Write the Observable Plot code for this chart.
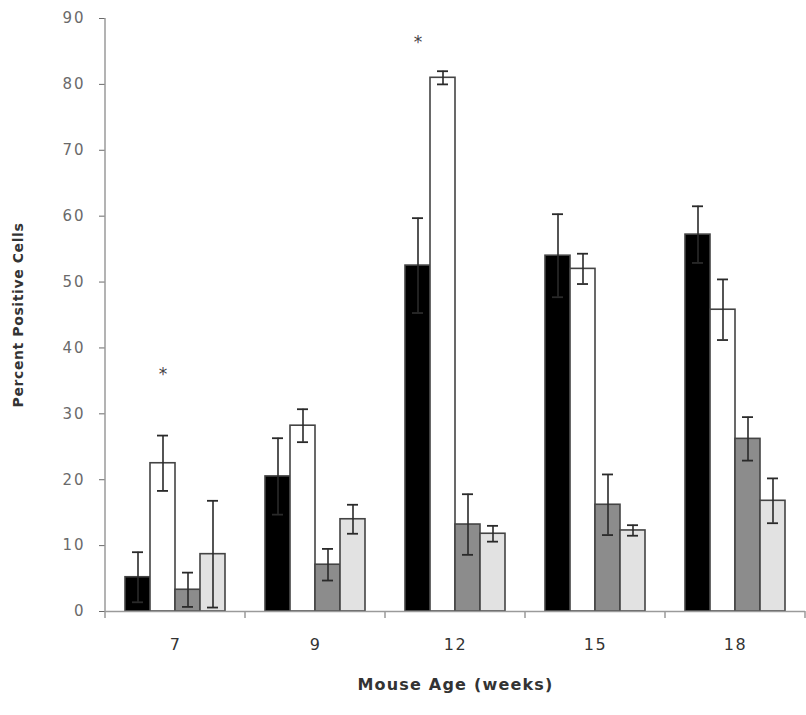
<!DOCTYPE html>
<html><head><meta charset="utf-8">
<script src="https://cdn.jsdelivr.net/npm/d3@7"></script>
<script src="https://cdn.jsdelivr.net/npm/@observablehq/plot@0.6"></script>
<style>body{margin:0;background:#fff;} svg{display:block;}</style>
</head><body><div id="chart"></div>
<script>
// Categories (mouse age, weeks) and series
const ages = ["7", "9", "12", "15", "18"];
const seriesKeys = ["S1", "S2", "S3", "S4"];
const seriesFills = ["#000000", "#ffffff", "#8c8c8c", "#e2e2e2"];

// Series values (percent positive cells) and error bar half-lengths
const s1Values = [5.2, 20.5, 52.5, 54.0, 57.2];
const s1Errors = [3.8, 5.8, 7.2, 6.3, 4.3];
const s2Values = [22.5, 28.2, 81.0, 52.0, 45.8];
const s2Errors = [4.2, 2.5, 1.0, 2.3, 4.6];
const s3Values = [3.3, 7.1, 13.2, 16.2, 26.2];
const s3Errors = [2.6, 2.4, 4.6, 4.6, 3.3];
const s4Values = [8.7, 14.0, 11.8, 12.3, 16.8];
const s4Errors = [8.1, 2.2, 1.2, 0.8, 3.4];

// Significance markers
const starAges = ["7", "12"];
const starSeries = ["S2", "S1"];
const starValues = [36.5, 87.0];

const yTicks = [0, 10, 20, 30, 40, 50, 60, 70, 80, 90];
const yLabel = "Percent Positive Cells";
const xLabel = "Mouse Age (weeks)";

const valueSets = [s1Values, s2Values, s3Values, s4Values];
const errorSets = [s1Errors, s2Errors, s3Errors, s4Errors];
const data = ages.flatMap((age, i) => seriesKeys.map((s, j) => ({
  age, series: s, value: valueSets[j][i], err: errorSets[j][i]
})));
const stars = starAges.map((age, i) => ({age, series: starSeries[i], y: starValues[i]}));

const plot = Plot.plot({
  width: 806,
  height: 715,
  marginLeft: 104,
  marginRight: 1,
  marginTop: 18,
  marginBottom: 104,
  style: {fontFamily: "DejaVu Sans", background: "#fff"},
  fx: {domain: ages, padding: 0},
  x: {domain: seriesKeys, paddingInner: 0, paddingOuter: 0.7, axis: null},
  y: {domain: [0, 90]},
  color: {domain: seriesKeys, range: seriesFills},
  marks: [
    Plot.axisY({ticks: yTicks, tickSize: 6, tickPadding: 14, fontSize: 15, color: "#6a6a6a",
      label: yLabel, labelArrow: "none", labelAnchor: "center", labelOffset: 92}),
    Plot.axisFx({anchor: "bottom", tickSize: 0, tickPadding: 27, fontSize: 16, color: "#333",
      label: xLabel, labelAnchor: "center", labelOffset: 78}),
    Plot.barY(data, {fx: "age", x: "series", y: "value", fill: "series", stroke: "#444", strokeWidth: 1.6}),
    Plot.ruleX(data, {fx: "age", x: "series", y1: d => Math.max(0, d.value - d.err), y2: d => d.value + d.err,
      stroke: "#2a2a2a", strokeWidth: 1.6}),
    Plot.tickY(data, {fx: "age", x: "series", y: d => d.value + d.err, stroke: "#2a2a2a", strokeWidth: 1.8,
      insetLeft: 7, insetRight: 7}),
    Plot.tickY(data.filter(d => d.value - d.err > 0.5), {fx: "age", x: "series", y: d => d.value - d.err,
      stroke: "#2a2a2a", strokeWidth: 1.8, insetLeft: 7, insetRight: 7}),
    Plot.ruleY([0], {stroke: "#9a9a9a", strokeWidth: 1.5}),
    Plot.text(stars, {fx: "age", x: "series", y: "y", text: () => "*", fontSize: 17, fill: "#444", dy: 4})
  ]
});

// Axis decorations drawn from the plot's own scales
const svg = d3.select(plot);
const fx = plot.scale("fx");
const y = plot.scale("y");
const y0 = y.apply(0), yTop = y.apply(90);
const xLeft = fx.apply(ages[0]);
const bounds = ages.map(a => fx.apply(a)).concat([fx.apply(ages[ages.length - 1]) + fx.bandwidth]);
const deco = svg.append("g").attr("stroke", "#9a9a9a").attr("stroke-width", 1.5);
deco.append("line").attr("x1", xLeft).attr("x2", xLeft).attr("y1", yTop).attr("y2", y0);
bounds.forEach(b => deco.append("line").attr("x1", b).attr("x2", b).attr("y1", y0).attr("y2", y0 + 7));

svg.selectAll('g[aria-label="y-axis label"] text').text(yLabel).attr("font-weight", "bold").attr("font-size", 14)
  .attr("fill", "#333").style("letter-spacing", "0.6px");
svg.selectAll('g[aria-label="fx-axis label"] text').text(xLabel).attr("font-weight", "600").attr("font-size", 16)
  .attr("fill", "#333").style("letter-spacing", "1.2px");
svg.selectAll('g[aria-label="y-axis tick label"] text').style("letter-spacing", "2px");
svg.selectAll('g[aria-label="fx-axis tick label"] text').style("letter-spacing", "1.5px");

document.getElementById("chart").append(plot);
</script>
</body></html>
